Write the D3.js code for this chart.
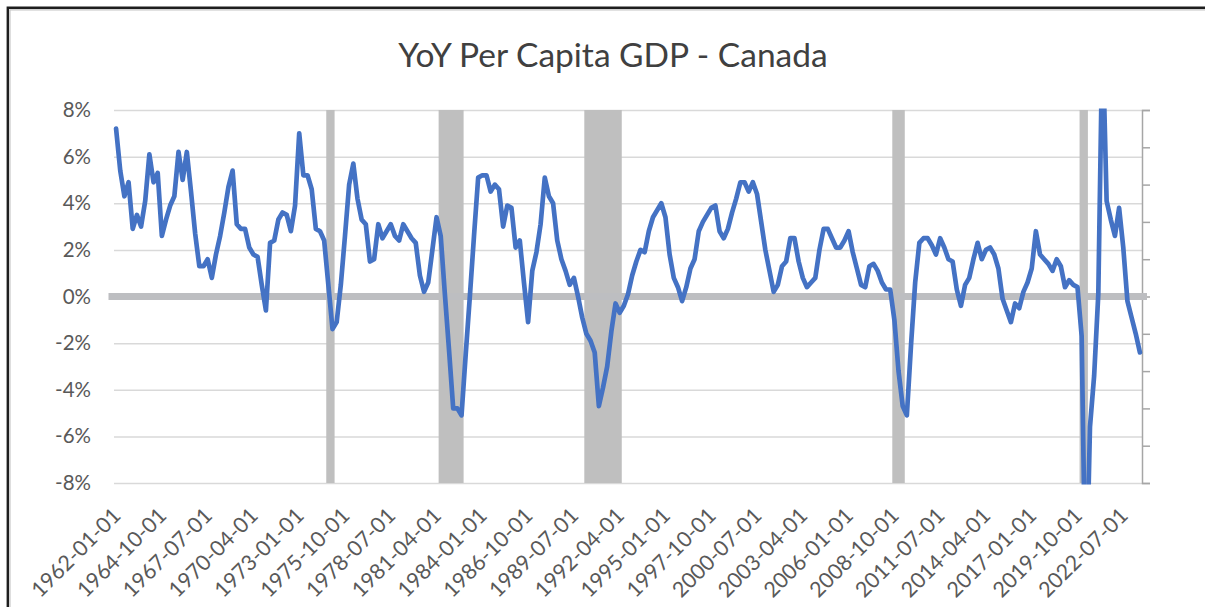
<!DOCTYPE html>
<html lang="en">
<head>
<meta charset="UTF-8">
<title>YoY Per Capita GDP - Canada</title>
<style>
  body { margin: 0; background: #fff; }
  svg { display: block; font-family: Lato, "Open Sans", sans-serif; }
</style>
</head>
<body>
<div id="wrapper"></div>
<script src="https://d3js.org/d3.v7.min.js"></script>
<script>
// year-over-year change in per capita GDP (%), quarterly, 1962Q1 .. 2023Q3
const yoy = [
  7.2, 5.4, 4.3, 4.9,   2.9, 3.5, 3.0, 4.1,   6.1, 4.9, 5.3, 2.6,   // 1962-64
  3.3, 3.9, 4.3, 6.2,   5.0, 6.2, 4.5, 2.7,   1.3, 1.3, 1.6, 0.8,   // 1965-67
  1.8, 2.6, 3.6, 4.7,   5.4, 3.1, 2.9, 2.9,   2.1, 1.8, 1.7, 0.5,   // 1968-70
  -0.6, 2.3, 2.4, 3.3,  3.6, 3.5, 2.8, 3.9,   7.0, 5.2, 5.2, 4.6,   // 1971-73
  2.9, 2.8, 2.4, 0.5,   -1.4, -1.1, 0.5, 2.6, 4.8, 5.7, 4.2, 3.3,   // 1974-76
  3.1, 1.5, 1.6, 3.1,   2.5, 2.8, 3.1, 2.6,   2.4, 3.1, 2.8, 2.5,   // 1977-79
  2.3, 0.9, 0.2, 0.6,   2.0, 3.4, 2.6, 0.1,   -2.3, -4.8, -4.8, -5.1, // 1980-82
  -2.5, 0.0, 2.6, 5.1,  5.2, 5.2, 4.5, 4.8,   4.6, 3.0, 3.9, 3.8,   // 1983-85
  2.1, 2.4, 0.6, -1.1,  1.1, 1.9, 3.1, 5.1,   4.3, 4.0, 2.4, 1.6,   // 1986-88
  1.1, 0.5, 0.8, 0.0,   -0.9, -1.6, -1.9, -2.4, -4.7, -3.9, -3.0, -1.5, // 1989-91
  -0.3, -0.7, -0.4, 0.1, 0.9, 1.5, 2.0, 1.9,  2.8, 3.4, 3.7, 4.0,   // 1992-94
  3.4, 1.8, 0.8, 0.4,   -0.2, 0.4, 1.2, 1.6,  2.8, 3.2, 3.5, 3.8,   // 1995-97
  3.9, 2.8, 2.5, 2.9,   3.6, 4.2, 4.9, 4.9,   4.5, 4.9, 4.4, 3.2,   // 1998-2000
  2.0, 1.1, 0.2, 0.5,   1.3, 1.5, 2.5, 2.5,   1.5, 0.8, 0.4, 0.6,   // 2001-03
  0.8, 2.0, 2.9, 2.9,   2.5, 2.1, 2.1, 2.4,   2.8, 1.9, 1.2, 0.5,   // 2004-06
  0.4, 1.3, 1.4, 1.1,   0.6, 0.3, 0.3, -1.0,  -3.2, -4.7, -5.1, -2.1, // 2007-09
  0.6, 2.3, 2.5, 2.5,   2.2, 1.8, 2.5, 2.1,   1.6, 1.5, 0.3, -0.4,  // 2010-12
  0.5, 0.8, 1.6, 2.3,   1.6, 2.0, 2.1, 1.8,   1.2, -0.1, -0.6, -1.1, // 2013-15
  -0.3, -0.5, 0.2, 0.6, 1.2, 2.8, 1.8, 1.6,   1.4, 1.1, 1.6, 1.3,   // 2016-18
  0.4, 0.7, 0.5, 0.4,   -1.7, -13.5, -5.6, -3.4, 0.1, 11.3, 4.1, 3.3, // 2019-21
  2.6, 3.8, 2.1, -0.2,  -0.9, -1.6, -2.4                            // 2022-23
];

// category labels shown on the x axis (every 11th quarter)
const tickLabels = [
  "1962-01-01", "1964-10-01", "1967-07-01", "1970-04-01", "1973-01-01",
  "1975-10-01", "1978-07-01", "1981-04-01", "1984-01-01", "1986-10-01",
  "1989-07-01", "1992-04-01", "1995-01-01", "1997-10-01", "2000-07-01",
  "2003-04-01", "2006-01-01", "2008-10-01", "2011-07-01", "2014-04-01",
  "2017-01-01", "2019-10-01", "2022-07-01"
];

// recession periods (first and last quarter)
const recessionStart = ["1974-10-01", "1981-07-01", "1990-04-01", "2008-10-01", "2020-01-01"];
const recessionEnd   = ["1975-01-01", "1982-10-01", "1992-04-01", "2009-04-01", "2020-04-01"];

const yTicks = [-8, -6, -4, -2, 0, 2, 4, 6, 8];

// quarterly category axis
const fmt = d3.timeFormat("%Y-%m-%d");
const quarters = d3.timeMonth.every(3)
  .range(new Date(1962, 0, 1), new Date(2023, 9, 1))
  .map(fmt);
const dataset = quarters.map((q, i) => ({ q: q, v: yoy[i] }));

const dimensions = {
  width: 1205,
  height: 607,
  left: 114,
  right: 1142,
  top: 110,
  bottom: 483
};

const svg = d3.select("#wrapper").append("svg")
  .attr("width", dimensions.width)
  .attr("height", dimensions.height);

// chart frame
svg.append("path")
  .attr("d", `M9.9,${dimensions.height} V9.9 H${dimensions.width}`)
  .attr("fill", "none").attr("stroke", "#c4c4c4").attr("stroke-width", 1.3);
svg.append("path")
  .attr("d", `M7.8,${dimensions.height} V7.8 H${dimensions.width}`)
  .attr("fill", "none").attr("stroke", "#1e1e1e").attr("stroke-width", 2.4);

// title
svg.append("text")
  .attr("x", 613)
  .attr("y", 67)
  .attr("text-anchor", "middle")
  .attr("fill", "#404040")
  .style("font-size", "33.5px")
  .text("YoY Per Capita GDP - Canada");

const xScale = d3.scaleBand()
  .domain(quarters)
  .range([dimensions.left, dimensions.right])
  .padding(0);
const xMid = (q) => xScale(q) + xScale.bandwidth() / 2;

const yScale = d3.scaleLinear()
  .domain([-8, 8])
  .range([dimensions.bottom, dimensions.top]);

// secondary axis used by the recession columns
const y2Scale = d3.scaleLinear()
  .domain([0, 1])
  .range([dimensions.bottom, dimensions.top]);

// gridlines + y labels
const yAxis = svg.append("g")
  .attr("transform", `translate(${dimensions.left},0)`)
  .call(d3.axisLeft(yScale)
    .tickValues(yTicks)
    .tickSize(-(dimensions.right - dimensions.left))
    .tickPadding(23)
    .tickFormat((d) => d + "%"));
yAxis.select(".domain").remove();
yAxis.selectAll(".tick line")
  .attr("stroke", "#d9d9d9")
  .attr("stroke-width", 1.5);
yAxis.selectAll(".tick text")
  .attr("fill", "#595959")
  .style("font-size", "20.5px")
  .style("font-family", "Lato, sans-serif");

// recession columns
const recessions = recessionStart.map((s, i) => ({ start: s, end: recessionEnd[i] }));
svg.append("g")
  .selectAll("rect")
  .data(recessions)
  .join("rect")
  .attr("x", (d) => xScale(d.start))
  .attr("width", (d) => xScale(d.end) + xScale.bandwidth() - xScale(d.start))
  .attr("y", y2Scale(1))
  .attr("height", y2Scale(0) - y2Scale(1))
  .attr("fill", "#bfbfbf");

// secondary axis on the right (no labels)
const y2Axis = svg.append("g")
  .attr("transform", `translate(${dimensions.right},0)`)
  .call(d3.axisRight(y2Scale).ticks(10).tickSize(8).tickFormat(""));
y2Axis.selectAll("path, line")
  .attr("stroke", "#a6a6a6")
  .attr("stroke-width", 1.5);

// thick zero line
svg.append("line")
  .attr("x1", dimensions.left - 5.5)
  .attr("x2", dimensions.right + 5)
  .attr("y1", yScale(0))
  .attr("y2", yScale(0))
  .attr("stroke", "#bdbec1")
  .attr("stroke-width", 7);

// x labels
const xAxis = svg.append("g")
  .attr("transform", `translate(0,${dimensions.bottom})`)
  .call(d3.axisBottom(xScale).tickValues(tickLabels).tickSize(0).tickFormat((d) => d));
xAxis.select(".domain").remove();
xAxis.selectAll(".tick text")
  .attr("fill", "#595959")
  .style("font-size", "21.5px")
  .style("font-family", "Lato, sans-serif")
  .attr("text-anchor", "end")
  .attr("y", 0)
  .attr("dy", 0)
  .attr("transform", "translate(6,34) rotate(-45)");

// clip so the 2020-21 spikes stop at the plot edges
svg.append("clipPath")
  .attr("id", "plot-clip")
  .append("rect")
  .attr("x", dimensions.left - 10)
  .attr("y", dimensions.top - 1.5)
  .attr("width", dimensions.right - dimensions.left + 20)
  .attr("height", dimensions.bottom - dimensions.top + 3);

const lineGenerator = d3.line()
  .x((d) => xMid(d.q))
  .y((d) => yScale(d.v));

svg.append("path")
  .attr("clip-path", "url(#plot-clip)")
  .attr("d", lineGenerator(dataset))
  .attr("fill", "none")
  .attr("stroke", "#4472c4")
  .attr("stroke-width", 4.7)
  .attr("stroke-linejoin", "round")
  .attr("stroke-linecap", "round");
</script>
</body>
</html>
